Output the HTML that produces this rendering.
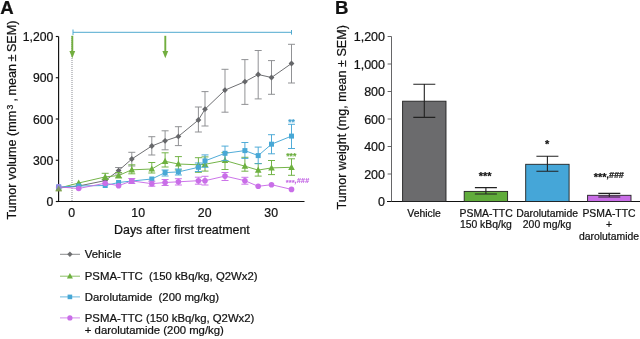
<!DOCTYPE html>
<html><head><meta charset="utf-8"><title>Figure</title><style>html,body{margin:0;padding:0;background:#fff}svg{display:block;will-change:transform;opacity:0.999}</style></head><body>
<svg width="640" height="339" viewBox="0 0 640 339" font-family="Liberation Sans, sans-serif" fill="#111"><style>text{stroke:#111;stroke-width:0.22px;paint-order:stroke}</style>
<rect width="640" height="339" fill="#fff"/>
<text x="0.3" y="13.5" font-size="18.6" font-weight="bold">A</text>
<text x="335" y="13.5" font-size="18.6" font-weight="bold">B</text>
<g stroke="#111" stroke-width="1.15" fill="none">
<path d="M58.6 36.5V201.5H304.5"/>
<path d="M55.8 201.5H58.5"/>
<path d="M55.8 160.25H58.5"/>
<path d="M55.8 119.0H58.5"/>
<path d="M55.8 77.74999999999999H58.5"/>
<path d="M55.8 36.5H58.5"/>
</g>
<g font-size="12.2" text-anchor="end">
<text x="53.3" y="206.0">0</text>
<text x="53.3" y="164.8">300</text>
<text x="53.3" y="123.5">600</text>
<text x="53.3" y="82.2">900</text>
<text x="53.3" y="41.0">1,200</text>
</g>
<g font-size="12.3" text-anchor="middle">
<text x="71.7" y="216.9">0</text>
<text x="138.2" y="216.9">10</text>
<text x="204.7" y="216.9">20</text>
<text x="271.2" y="216.9">30</text>
<text x="181.9" y="234" font-size="12.4">Days after first treatment</text>
</g>
<g transform="translate(16.4,0) rotate(-90)" font-size="12.6">
<text x="-219.5" y="0">Tumor volume</text>
<text x="-110.7" y="0" text-anchor="end">(mm</text>
<text x="-107.1" y="-3.2" text-anchor="middle" font-size="8.6">3</text>
<text x="-20.6" y="0" text-anchor="end" word-spacing="-1">, mean ± SEM)</text>
</g>
<path d="M72 36V201" stroke="#94979d" stroke-width="1.1" stroke-dasharray="1 1" fill="none"/>
<path d="M73 32.3H291.5M73 29.5v5.6M291.5 30v4.6" stroke="#4fa9cf" stroke-width="1" fill="none"/>
<path d="M72.3 35.8V53" stroke="#72ae3f" stroke-width="1.9" fill="none"/><path d="M69.39999999999999 51L72.3 58.2L75.2 51Z" fill="#72ae3f"/>
<path d="M165.3 35.8V53" stroke="#72ae3f" stroke-width="1.9" fill="none"/><path d="M162.4 51L165.3 58.2L168.20000000000002 51Z" fill="#72ae3f"/>
<g stroke="#66676a" fill="#66676a"><path d="M118.6 167.5V174M115.1 167.5h7M115.1 174h7" fill="none" stroke-width="0.95" stroke="#8b8c8f"/><path d="M131.8 152.3V166M128.3 152.3h7M128.3 166h7" fill="none" stroke-width="0.95" stroke="#8b8c8f"/><path d="M151.8 136.7V155M148.3 136.7h7M148.3 155h7" fill="none" stroke-width="0.95" stroke="#8b8c8f"/><path d="M165.1 130.8V149.8M161.6 130.8h7M161.6 149.8h7" fill="none" stroke-width="0.95" stroke="#8b8c8f"/><path d="M178.4 126.7V145.6M174.9 126.7h7M174.9 145.6h7" fill="none" stroke-width="0.95" stroke="#8b8c8f"/><path d="M198.4 107V132M194.9 107h7M194.9 132h7" fill="none" stroke-width="0.95" stroke="#8b8c8f"/><path d="M205.0 91.6V126M201.5 91.6h7M201.5 126h7" fill="none" stroke-width="0.95" stroke="#8b8c8f"/><path d="M225.0 69.3V112.2M221.5 69.3h7M221.5 112.2h7" fill="none" stroke-width="0.95" stroke="#8b8c8f"/><path d="M244.9 59.6V104.4M241.4 59.6h7M241.4 104.4h7" fill="none" stroke-width="0.95" stroke="#8b8c8f"/><path d="M258.2 50.5V98.9M254.7 50.5h7M254.7 98.9h7" fill="none" stroke-width="0.95" stroke="#8b8c8f"/><path d="M271.5 60.6V94.3M268.0 60.6h7M268.0 94.3h7" fill="none" stroke-width="0.95" stroke="#8b8c8f"/><path d="M291.5 44.3V83M288.0 44.3h7M288.0 83h7" fill="none" stroke-width="0.95" stroke="#8b8c8f"/><polyline points="58.7,188 78.7,186 105.2,180.6 118.6,170.6 131.8,159 151.8,146 165.1,140.8 178.4,136.4 198.4,120 205.0,109.2 225.0,90.1 244.9,81.7 258.2,74.5 271.5,77.5 291.5,63.5" fill="none" stroke-width="0.95"/><path d="M58.7 185.1L61.6 188L58.7 190.9L55.8 188Z" stroke="none"/><path d="M78.7 183.1L81.6 186L78.7 188.9L75.8 186Z" stroke="none"/><path d="M105.2 177.7L108.1 180.6L105.2 183.5L102.3 180.6Z" stroke="none"/><path d="M118.6 167.7L121.5 170.6L118.6 173.5L115.7 170.6Z" stroke="none"/><path d="M131.8 156.1L134.7 159L131.8 161.9L128.9 159Z" stroke="none"/><path d="M151.8 143.1L154.7 146L151.8 148.9L148.9 146Z" stroke="none"/><path d="M165.1 137.9L168.0 140.8L165.1 143.7L162.2 140.8Z" stroke="none"/><path d="M178.4 133.5L181.3 136.4L178.4 139.3L175.5 136.4Z" stroke="none"/><path d="M198.4 117.1L201.3 120L198.4 122.9L195.5 120Z" stroke="none"/><path d="M205.0 106.3L207.9 109.2L205.0 112.1L202.1 109.2Z" stroke="none"/><path d="M225.0 87.2L227.9 90.1L225.0 93.0L222.1 90.1Z" stroke="none"/><path d="M244.9 78.8L247.8 81.7L244.9 84.6L242.0 81.7Z" stroke="none"/><path d="M258.2 71.6L261.1 74.5L258.2 77.4L255.3 74.5Z" stroke="none"/><path d="M271.5 74.6L274.4 77.5L271.5 80.4L268.6 77.5Z" stroke="none"/><path d="M291.5 60.6L294.4 63.5L291.5 66.4L288.6 63.5Z" stroke="none"/></g>
<g stroke="#6db03f" fill="#6db03f"><path d="M105.2 173.3V179.5M101.7 173.3h7M101.7 179.5h7" fill="none" stroke-width="0.95" stroke="#6db03f"/><path d="M118.6 172.5V178M115.1 172.5h7M115.1 178h7" fill="none" stroke-width="0.95" stroke="#6db03f"/><path d="M131.8 164.8V173.8M128.3 164.8h7M128.3 173.8h7" fill="none" stroke-width="0.95" stroke="#6db03f"/><path d="M151.8 162.5V173M148.3 162.5h7M148.3 173h7" fill="none" stroke-width="0.95" stroke="#6db03f"/><path d="M165.1 152.8V167M161.6 152.8h7M161.6 167h7" fill="none" stroke-width="0.95" stroke="#6db03f"/><path d="M178.4 156.6V170M174.9 156.6h7M174.9 170h7" fill="none" stroke-width="0.95" stroke="#6db03f"/><path d="M198.4 157.7V172.3M194.9 157.7h7M194.9 172.3h7" fill="none" stroke-width="0.95" stroke="#6db03f"/><path d="M205.0 156.9V171.1M201.5 156.9h7M201.5 171.1h7" fill="none" stroke-width="0.95" stroke="#6db03f"/><path d="M225.0 152.6V169.5M221.5 152.6h7M221.5 169.5h7" fill="none" stroke-width="0.95" stroke="#6db03f"/><path d="M244.9 157.3V171.2M241.4 157.3h7M241.4 171.2h7" fill="none" stroke-width="0.95" stroke="#6db03f"/><path d="M258.2 163.5V176.1M254.7 163.5h7M254.7 176.1h7" fill="none" stroke-width="0.95" stroke="#6db03f"/><path d="M271.5 160.5V174.6M268.0 160.5h7M268.0 174.6h7" fill="none" stroke-width="0.95" stroke="#6db03f"/><path d="M291.5 158.8V175.3M288.0 158.8h7M288.0 175.3h7" fill="none" stroke-width="0.95" stroke="#6db03f"/><polyline points="58.7,188.2 78.7,183 105.2,176.9 118.6,175.5 131.8,169.8 151.8,169 165.1,161.3 178.4,164 198.4,164.8 205.0,164.3 225.0,160.5 244.9,166.2 258.2,170.1 271.5,167.9 291.5,167.3" fill="none" stroke-width="0.95"/><path d="M58.7 184.7L62.0 190.8H55.4Z" stroke="none"/><path d="M78.7 179.5L82.0 185.6H75.4Z" stroke="none"/><path d="M105.2 173.4L108.5 179.5H101.9Z" stroke="none"/><path d="M118.6 172.0L121.9 178.1H115.3Z" stroke="none"/><path d="M131.8 166.3L135.1 172.4H128.5Z" stroke="none"/><path d="M151.8 165.5L155.1 171.6H148.5Z" stroke="none"/><path d="M165.1 157.8L168.4 163.9H161.8Z" stroke="none"/><path d="M178.4 160.5L181.7 166.6H175.1Z" stroke="none"/><path d="M198.4 161.3L201.7 167.4H195.1Z" stroke="none"/><path d="M205.0 160.8L208.3 166.9H201.7Z" stroke="none"/><path d="M225.0 157.0L228.3 163.1H221.7Z" stroke="none"/><path d="M244.9 162.7L248.2 168.8H241.6Z" stroke="none"/><path d="M258.2 166.6L261.5 172.7H254.9Z" stroke="none"/><path d="M271.5 164.4L274.8 170.5H268.2Z" stroke="none"/><path d="M291.5 163.8L294.8 169.9H288.2Z" stroke="none"/></g>
<g stroke="#48a8d6" fill="#48a8d6"><path d="M165.1 170V176M161.6 170h7M161.6 176h7" fill="none" stroke-width="0.95" stroke="#48a8d6"/><path d="M178.4 169V175M174.9 169h7M174.9 175h7" fill="none" stroke-width="0.95" stroke="#48a8d6"/><path d="M198.4 163V171.5M194.9 163h7M194.9 171.5h7" fill="none" stroke-width="0.95" stroke="#48a8d6"/><path d="M205.0 154.9V167.3M201.5 154.9h7M201.5 167.3h7" fill="none" stroke-width="0.95" stroke="#48a8d6"/><path d="M225.0 146.1V160.6M221.5 146.1h7M221.5 160.6h7" fill="none" stroke-width="0.95" stroke="#48a8d6"/><path d="M244.9 142.5V158.4M241.4 142.5h7M241.4 158.4h7" fill="none" stroke-width="0.95" stroke="#48a8d6"/><path d="M258.2 147.1V163.7M254.7 147.1h7M254.7 163.7h7" fill="none" stroke-width="0.95" stroke="#48a8d6"/><path d="M271.5 134.7V153.8M268.0 134.7h7M268.0 153.8h7" fill="none" stroke-width="0.95" stroke="#48a8d6"/><path d="M291.5 124.3V148.5M288.0 124.3h7M288.0 148.5h7" fill="none" stroke-width="0.95" stroke="#48a8d6"/><polyline points="58.7,187 78.7,186 105.2,185.5 118.6,182.5 131.8,181 151.8,179 165.1,172.6 178.4,171.9 198.4,167.3 205.0,160.9 225.0,153.3 244.9,150.6 258.2,155.6 271.5,144.2 291.5,136.1" fill="none" stroke-width="0.95"/><rect x="56.2" y="184.5" width="5.0" height="5.0" stroke="none"/><rect x="76.2" y="183.5" width="5.0" height="5.0" stroke="none"/><rect x="102.7" y="183.0" width="5.0" height="5.0" stroke="none"/><rect x="116.1" y="180.0" width="5.0" height="5.0" stroke="none"/><rect x="129.3" y="178.5" width="5.0" height="5.0" stroke="none"/><rect x="149.3" y="176.5" width="5.0" height="5.0" stroke="none"/><rect x="162.6" y="170.1" width="5.0" height="5.0" stroke="none"/><rect x="175.9" y="169.4" width="5.0" height="5.0" stroke="none"/><rect x="195.9" y="164.8" width="5.0" height="5.0" stroke="none"/><rect x="202.5" y="158.4" width="5.0" height="5.0" stroke="none"/><rect x="222.5" y="150.8" width="5.0" height="5.0" stroke="none"/><rect x="242.4" y="148.1" width="5.0" height="5.0" stroke="none"/><rect x="255.7" y="153.1" width="5.0" height="5.0" stroke="none"/><rect x="269.0" y="141.7" width="5.0" height="5.0" stroke="none"/><rect x="289.0" y="133.6" width="5.0" height="5.0" stroke="none"/></g>
<g stroke="#c96ee8" fill="#c96ee8"><path d="M131.8 178.5V183.5M128.3 178.5h7M128.3 183.5h7" fill="none" stroke-width="0.95" stroke="#c96ee8"/><path d="M151.8 181.2V186.2M148.3 181.2h7M148.3 186.2h7" fill="none" stroke-width="0.95" stroke="#c96ee8"/><path d="M165.1 179.5V185.5M161.6 179.5h7M161.6 185.5h7" fill="none" stroke-width="0.95" stroke="#c96ee8"/><path d="M178.4 178.7V185M174.9 178.7h7M174.9 185h7" fill="none" stroke-width="0.95" stroke="#c96ee8"/><path d="M198.4 177.2V184.2M194.9 177.2h7M194.9 184.2h7" fill="none" stroke-width="0.95" stroke="#c96ee8"/><path d="M205.0 176.3V185M201.5 176.3h7M201.5 185h7" fill="none" stroke-width="0.95" stroke="#c96ee8"/><path d="M225.0 172.5V180.5M221.5 172.5h7M221.5 180.5h7" fill="none" stroke-width="0.95" stroke="#c96ee8"/><path d="M244.9 177.3V184.2M241.4 177.3h7M241.4 184.2h7" fill="none" stroke-width="0.95" stroke="#c96ee8"/><polyline points="58.7,186.9 78.7,188.5 105.2,183.2 118.6,185.7 131.8,180.9 151.8,183.7 165.1,182.5 178.4,181.8 198.4,180.7 205.0,180.7 225.0,176.1 244.9,180.7 258.2,186.3 271.5,184.7 291.5,189.4" fill="none" stroke-width="0.95"/><circle cx="58.7" cy="186.9" r="2.8" stroke="none"/><circle cx="78.7" cy="188.5" r="2.8" stroke="none"/><circle cx="105.2" cy="183.2" r="2.8" stroke="none"/><circle cx="118.6" cy="185.7" r="2.8" stroke="none"/><circle cx="131.8" cy="180.9" r="2.8" stroke="none"/><circle cx="151.8" cy="183.7" r="2.8" stroke="none"/><circle cx="165.1" cy="182.5" r="2.8" stroke="none"/><circle cx="178.4" cy="181.8" r="2.8" stroke="none"/><circle cx="198.4" cy="180.7" r="2.8" stroke="none"/><circle cx="205.0" cy="180.7" r="2.8" stroke="none"/><circle cx="225.0" cy="176.1" r="2.8" stroke="none"/><circle cx="244.9" cy="180.7" r="2.8" stroke="none"/><circle cx="258.2" cy="186.3" r="2.8" stroke="none"/><circle cx="271.5" cy="184.7" r="2.8" stroke="none"/><circle cx="291.5" cy="189.4" r="2.8" stroke="none"/></g>
<rect x="56.3" y="184.4" width="4.8" height="4.8" fill="#48a8d6" opacity="0.5"/><path d="M58.7 185.6L62 191.6H55.4Z" fill="#7d9a4a" opacity="0.8"/>
<text x="291.5" y="124.8" font-size="8.6" font-weight="bold" text-anchor="middle" style="stroke:#3f9fcf;stroke-width:0.15px" fill="#3f9fcf">**</text>
<text x="291.3" y="158.7" font-size="8.6" font-weight="bold" text-anchor="middle" style="stroke:#66aa38;stroke-width:0.15px" fill="#66aa38">***</text>
<text x="285.8" y="184.6" font-size="7.6" font-weight="bold" style="stroke:#c264e4;stroke-width:0.12px" fill="#c264e4">***<tspan font-size="7.4" font-style="italic" dy="-1.4">,###</tspan></text>
<g stroke="#6d6e70" fill="#6d6e70"><path d="M60 254.3H80" stroke-width="0.8"/><path d="M69.9 251.6L72.6 254.3L69.9 257.0L67.2 254.3Z" stroke="none"/></g>
<g stroke="#6db03f" fill="#6db03f"><path d="M60 276.2H80" stroke-width="0.8"/><path d="M69.9 273.0L72.9 278.6H66.9Z" stroke="none"/></g>
<g stroke="#48a8d6" fill="#48a8d6"><path d="M60 296.9H80" stroke-width="0.8"/><rect x="67.6" y="294.6" width="4.6" height="4.6" stroke="none"/></g>
<g stroke="#c96ee8" fill="#c96ee8"><path d="M60 317.9H80" stroke-width="0.8"/><circle cx="69.9" cy="317.9" r="2.6" stroke="none"/></g>
<g font-size="11.35">
<text x="84.8" y="258.2">Vehicle</text>
<text x="84.8" y="280.1" xml:space="preserve">PSMA-TTC  (150 kBq/kg, Q2Wx2)</text>
<text x="84.8" y="300.5" xml:space="preserve">Darolutamide  (200 mg/kg)</text>
<text x="84.8" y="321.8">PSMA-TTC (150 kBq/kg, Q2Wx2)</text>
<text x="84.8" y="334.1">+ darolutamide (200 mg/kg)</text>
</g>
<path d="M387 201.5H640" stroke="#111" stroke-width="1.2" fill="none"/>
<g stroke="#5e5e60" stroke-width="0.95" fill="none">
<path d="M391.5 36.5V201.5"/>
<path d="M387.6 174.0H391.5"/>
<path d="M387.6 146.5H391.5"/>
<path d="M387.6 119.0H391.5"/>
<path d="M387.6 91.49999999999999H391.5"/>
<path d="M387.6 64.0H391.5"/>
<path d="M387.6 36.5H391.5"/>
</g>
<g font-size="12.5" text-anchor="end">
<text x="385" y="206.0">0</text>
<text x="385" y="178.5">200</text>
<text x="385" y="151.0">400</text>
<text x="385" y="123.5">600</text>
<text x="385" y="96.0">800</text>
<text x="385" y="68.5">1,000</text>
<text x="385" y="41.0">1,200</text>
</g>
<text transform="translate(346.2,117.3) rotate(-90)" font-size="12.55" text-anchor="middle">Tumor weight (mg, mean ± SEM)</text>
<rect x="402.6" y="101.2" width="43.4" height="100.3" fill="#6b6b6d" stroke="#222" stroke-width="0.9"/>
<path d="M424.3 84.3V117.4M413.3 84.3h22M413.3 117.4h22" stroke="#222" stroke-width="1.1" fill="none"/>
<rect x="464.2" y="191.4" width="43.4" height="10.1" fill="#60ac3b" stroke="#222" stroke-width="0.9"/>
<path d="M485.9 187.6V194M474.9 187.6h22M474.9 194h22" stroke="#222" stroke-width="1.1" fill="none"/>
<rect x="525.7" y="164.3" width="43.4" height="37.2" fill="#45a6d8" stroke="#222" stroke-width="0.9"/>
<path d="M547.4 156.2V171.2M536.4 156.2h22M536.4 171.2h22" stroke="#222" stroke-width="1.1" fill="none"/>
<rect x="587.6" y="195.3" width="43.4" height="6.2" fill="#c86de6" stroke="#222" stroke-width="0.9"/>
<path d="M609.3 193.4V197M598.3 193.4h22M598.3 197h22" stroke="#222" stroke-width="1.1" fill="none"/>
<g font-size="10.4" text-anchor="middle">
<text x="424.1" y="216.6">Vehicle</text>
<text x="486.1" y="216.6">PSMA-TTC</text><text x="485.9" y="228.3">150 kBq/kg</text>
<text x="547.1" y="216.6">Darolutamide</text><text x="547.1" y="228.3">200 mg/kg</text>
<text x="609" y="216.6">PSMA-TTC</text><text x="609" y="228.3">+</text><text x="609" y="240">darolutamide</text>
</g>
<g font-size="11" font-weight="bold">
<text x="478.8" y="179.5">***</text>
<text x="545" y="147.7">*</text>
<text x="593.8" y="181.4">***<tspan font-size="8.8" font-style="italic" dy="-3.2">,###</tspan></text>
</g>
</svg>
</body></html>
